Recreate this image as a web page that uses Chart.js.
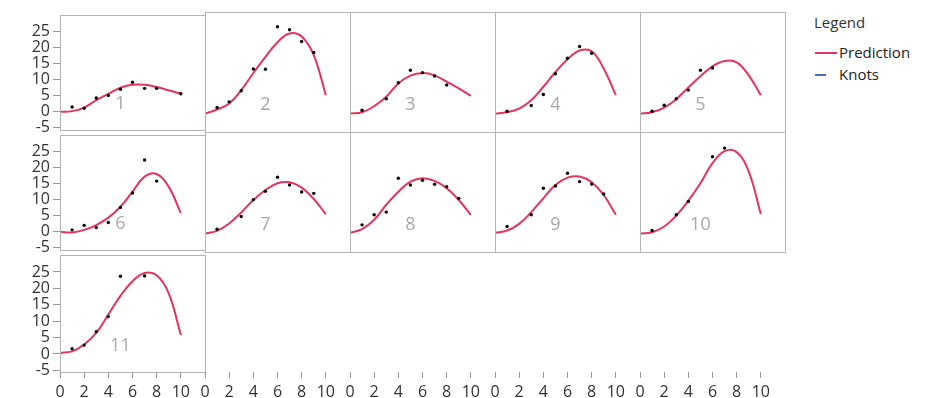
<!DOCTYPE html>
<html><head><meta charset="utf-8">
<script src="https://cdn.jsdelivr.net/npm/chart.js@4.4.1/dist/chart.umd.min.js"></script>
<style>
html,body{margin:0;padding:0;background:#fff;}
#wrap{position:relative;width:928px;height:398px;overflow:hidden;font-family:"Open Sans",sans-serif;color:#222;}
#wrap canvas{position:absolute;}
.lg{position:absolute;font-size:15px;line-height:18px;white-space:nowrap;}
.sw{position:absolute;height:2px;}
</style></head><body><div id="wrap">
<div class="lg" style="left:814px;top:13px;color:#333;">Legend</div>
<div class="sw" style="left:815px;top:52px;width:22px;background:#e4345c;"></div>
<div class="lg" style="left:839px;top:43px;">Prediction</div>
<div class="sw" style="left:815px;top:74px;width:11px;background:#4a6cc8;"></div>
<div class="lg" style="left:839px;top:65px;">Knots</div>
</div>
<script>
// ---- data ----
const xTicks = [0, 2, 4, 6, 8, 10];
const yTicks = [-5, 0, 5, 10, 15, 20, 25];
const panelLabels = ["1","2","3","4","5","6","7","8","9","10","11"];
const curveX = [0,1,2,3,4,5,6,7,8,9,10];

const pred1  = [0,0.2,1.3,3.6,5.6,7.5,8.4,8.4,7.7,6.7,5.6];
const pred2  = [0,1.2,3.0,7.0,12.1,16.9,21.3,23.9,23.0,17.4,5.5];
const pred3  = [0,0.4,2.2,5.0,9.0,11.3,12.1,11.4,9.5,7.5,5.3];
const pred4  = [0,0.4,1.5,4.0,8.0,12.4,16.2,18.8,18.6,13.4,5.5];
const pred5  = [0,0.4,1.8,4.3,7.8,11.1,14.1,15.7,15.3,11.4,5.5];
const pred6  = [0,-0.2,0.6,2.1,4.4,7.8,12.5,17.2,18.0,14.0,5.8];
const pred7  = [0,0.8,3.0,6.3,10.0,13.0,15.0,15.3,13.7,10.3,5.8];
const pred8  = [0.2,1.3,4.1,8.6,12.5,15.5,16.5,15.7,13.5,10.0,5.6];
const pred9  = [0.2,0.9,2.9,6.4,10.5,14.5,16.7,17.0,15.3,11.5,5.6];
const pred10 = [0,0.4,2.1,5.4,9.8,15.0,21.0,24.6,24.3,18.5,5.8];
const pred11 = [0.3,0.8,2.9,6.4,12.0,17.7,22.2,24.7,24.0,18.5,5.8];

const obsX1  = [1,2,3,4,5,6,7,8,10];
const obs1   = [1.5,1.1,4.3,5.1,7.0,9.2,7.3,7.3,5.6];
const obsX2  = [1,2,3,4,5,6,7,8,9];
const obs2   = [1.8,3.5,6.8,13.3,13.2,25.9,25.0,21.5,18.2];
const obsX3  = [1,3,4,5,6,7,8];
const obs3   = [1.0,4.4,9.2,12.9,12.2,11.2,8.5];
const obsX4  = [1,3,4,5,6,7,8];
const obs4   = [0.7,2.4,5.7,11.9,16.5,20.0,18.0];
const obsX5  = [1,2,3,4,5,6];
const obs5   = [0.7,2.5,4.4,7.0,12.9,13.6];
const obsX6  = [1,2,3,4,5,6,7,8];
const obs6   = [0.6,2.0,1.3,2.9,7.6,12.1,22.4,15.8];
const obsX7  = [1,3,4,5,6,7,8,9];
const obs7   = [1.3,5.1,10.1,12.6,16.8,14.5,12.4,12.0];
const obsX8  = [1,2,3,4,5,6,7,8,9];
const obs8   = [2.6,5.6,6.4,16.5,14.5,15.9,14.7,14.0,10.5];
const obsX9  = [1,3,4,5,6,7,8,9];
const obs9   = [2.1,5.6,13.5,14.2,18.0,15.5,14.8,11.8];
const obsX10 = [1,3,4,6,7];
const obs10  = [0.9,5.6,9.6,22.9,25.5];
const obsX11 = [1,2,3,4,5,7];
const obs11  = [1.6,2.7,6.8,11.4,23.7,23.8];

const preds = [pred1,pred2,pred3,pred4,pred5,pred6,pred7,pred8,pred9,pred10,pred11];
const obsXs = [obsX1,obsX2,obsX3,obsX4,obsX5,obsX6,obsX7,obsX8,obsX9,obsX10,obsX11];
const obss  = [obs1,obs2,obs3,obs4,obs5,obs6,obs7,obs8,obs9,obs10,obs11];

// ---- layout ----
const COLS = 5, ROWS = 3;
const GX = 60, GY = 12, PW = 145, PH = 120, M = 10, YAX = 60, H = 398;
const RED = '#e4345c';
const FONT = {family: '"Open Sans", sans-serif', size: 16};

const framePlugin = {
  id: 'frame',
  beforeDatasetsDraw(chart, args, opts) {
    if (!opts.show || !opts.label) return;
    const ctx = chart.ctx;
    ctx.save();
    ctx.fillStyle = '#a8a8a8';
    ctx.font = '18px "Open Sans", sans-serif';
    ctx.textAlign = 'center';
    ctx.textBaseline = 'middle';
    ctx.fillText(opts.label, chart.scales.x.getPixelForValue(5), chart.scales.y.getPixelForValue(2.6));
    ctx.restore();
  },
  afterDraw(chart, args, opts) {
    if (!opts.show) return;
    const a = chart.chartArea, ctx = chart.ctx;
    ctx.save();
    ctx.strokeStyle = '#b4b4b4';
    ctx.lineWidth = 1;
    ctx.strokeRect(Math.round(a.left) + 0.5, Math.round(a.top) + 0.5, Math.round(a.right - a.left), Math.round(a.bottom - a.top));
    ctx.restore();
  }
};

const wrap = document.getElementById('wrap');

for (let r = 0; r < ROWS; r++) {
  for (let c = 0; c < COLS; c++) {
    const idx = r * COLS + c;
    const isPanel = idx < preds.length;
    const leftCol = c === 0;
    const bottomRow = r === ROWS - 1;
    if (!isPanel && !bottomRow) continue;
    const showY = leftCol && isPanel;
    const showX = bottomRow;

    const px = GX + c * PW, py = GY + r * PH;
    const x0 = px - (leftCol ? YAX : M);
    const y0 = py - M;
    const w = (leftCol ? YAX : M) + PW + M;
    const h = bottomRow ? (H - y0) : (M + PH + M);

    const cv = document.createElement('canvas');
    cv.width = w; cv.height = h;
    cv.style.left = x0 + 'px'; cv.style.top = y0 + 'px';
    cv.style.width = w + 'px'; cv.style.height = h + 'px';
    wrap.appendChild(cv);

    const datasets = [];
    if (isPanel) {
      datasets.push({
        label: 'Knots data',
        data: obsXs[idx].map((x, i) => ({x: x, y: obss[idx][i]})),
        pointRadius: 1.7, pointBackgroundColor: '#000', pointBorderWidth: 0,
        showLine: false, order: 1
      });
      datasets.push({
        label: 'Prediction',
        data: curveX.map((x, i) => ({x: x, y: preds[idx][i]})),
        showLine: true, borderColor: RED, borderWidth: 2, pointRadius: 0,
        tension: 0.4, fill: false, order: 2
      });
    }

    new Chart(cv, {
      type: 'scatter',
      data: {datasets},
      options: {
        responsive: false, animation: false, devicePixelRatio: 1, events: [],
        layout: {padding: {left: leftCol ? 0 : M, right: M, top: M, bottom: bottomRow ? 0 : M}},
        plugins: {legend: {display: false}, tooltip: {enabled: false},
                  frame: {show: isPanel, label: isPanel ? panelLabels[idx] : ''}},
        scales: {
          x: {
            type: 'linear', min: 0, max: 12, display: showX,
            afterBuildTicks: s => { s.ticks = xTicks.map(v => ({value: v})); },
            afterFit: s => { if (showX) s.height = H - (GY + ROWS * PH); },
            grid: {display: true, drawOnChartArea: false, drawTicks: true, tickLength: 6, color: '#999'},
            border: {display: false},
            ticks: {font: FONT, color: '#333', padding: 5, maxRotation: 0, autoSkip: false}
          },
          y: {
            type: 'linear', min: -5.5, max: 30.3, display: showY,
            afterBuildTicks: s => { s.ticks = yTicks.map(v => ({value: v})); },
            afterFit: s => { if (showY) s.width = YAX; },
            grid: {display: true, drawOnChartArea: false, drawTicks: true, tickLength: 7, color: '#999'},
            border: {display: false},
            ticks: {font: FONT, color: '#333', padding: 3, autoSkip: false}
          }
        }
      },
      plugins: [framePlugin]
    });
  }
}
</script>
</body></html>
